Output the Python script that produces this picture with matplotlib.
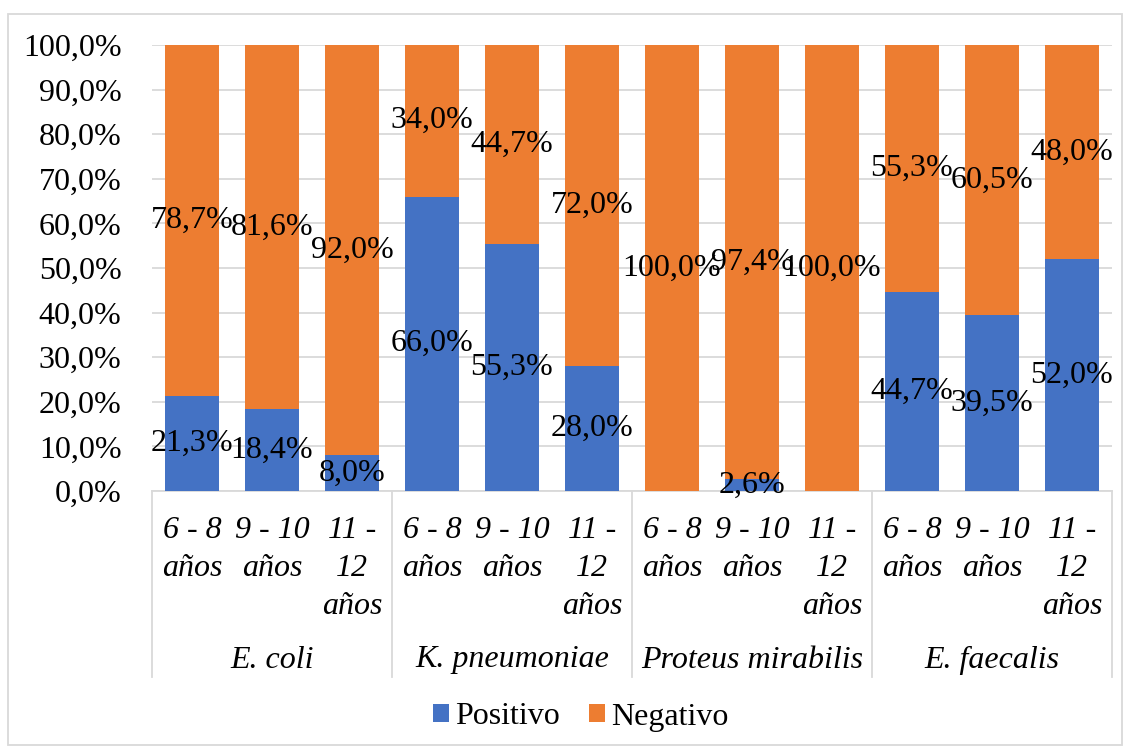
import matplotlib.pyplot as plt
from matplotlib.patches import Rectangle
from matplotlib.ticker import FuncFormatter
import matplotlib.transforms as mtransforms

plt.rcParams['font.family'] = ['Liberation Serif', 'DejaVu Serif']

# datos
especies = ['E. coli', 'K. pneumoniae', 'Proteus mirabilis', 'E. faecalis']
edades = ['6 - 8\naños', '9 - 10\naños', '11 -\n12\naños']
positivo = [21.3, 18.4, 8.0, 66.0, 55.3, 28.0, 0.0, 2.6, 0.0, 44.7, 39.5, 52.0]
negativo = [78.7, 81.6, 92.0, 34.0, 44.7, 72.0, 100.0, 97.4, 100.0, 55.3, 60.5, 48.0]

azul = '#4472C4'
naranja = '#ED7D31'
gris = '#D9D9D9'
fs = 23

W, H = 1129, 749
fig = plt.figure(figsize=(W / 100, H / 100), dpi=100)
ax = fig.add_axes([152 / W, 1 - 491 / H, 960 / W, 446 / H])

x = [i + 0.5 for i in range(len(positivo))]
ax.bar(x, positivo, width=0.675, color=azul, label='Positivo', zorder=3)
ax.bar(x, negativo, width=0.675, bottom=positivo, color=naranja, label='Negativo', zorder=3)

def fmt(v):
    return ('%.1f%%' % v).replace('.', ',')

for xi, p, n in zip(x, positivo, negativo):
    if p > 0:
        ax.text(xi, p / 2, fmt(p), ha='center', va='center', fontsize=fs, zorder=4)
    if n > 0:
        ax.text(xi, p + n / 2, fmt(n), ha='center', va='center', fontsize=fs, zorder=4)

ax.set_xlim(0, len(positivo))
ax.set_ylim(0, 100)
ax.set_yticks(range(0, 101, 10))
ax.yaxis.set_major_formatter(FuncFormatter(lambda v, pos: fmt(v)))
ax.tick_params(axis='y', length=0, labelsize=fs, pad=22)
ax.set_xticks([])
ax.grid(axis='y', color=gris, linewidth=1.3, zorder=0)
for s in ['top', 'right', 'left']:
    ax.spines[s].set_visible(False)
ax.spines['bottom'].set_color(gris)
ax.spines['bottom'].set_linewidth(1.3)

# etiquetas de categorias
trans = mtransforms.blended_transform_factory(ax.transData, ax.transAxes)
ybot = -(677 - 491) / 446
for g in range(len(especies) + 1):
    ax.plot([g * 3, g * 3], [0, ybot], color=gris, linewidth=1.3, transform=trans, clip_on=False)
for i, xi in enumerate(x):
    ax.text(xi, -(516 - 491) / 446, edades[i % 3], transform=trans, ha='center', va='top',
            fontsize=fs, style='italic', linespacing=1.42)
for g, sp in enumerate(especies):
    ax.text(g * 3 + 1.5, -(660 - 491) / 446, sp, transform=trans, ha='center', va='center',
            fontsize=fs, style='italic')

fig.legend(loc='center', bbox_to_anchor=(581 / W, 1 - 717 / H), ncol=2, frameon=False,
           fontsize=fs, handlelength=0.5, handleheight=0.5, handletextpad=0.2, columnspacing=0.9)

fig.patches.append(Rectangle((8 / W, 1 - 745 / H), 1114 / W, 731 / H, transform=fig.transFigure,
                             fill=False, edgecolor=gris, linewidth=1.3))

fig.savefig('out.png', dpi=100)
